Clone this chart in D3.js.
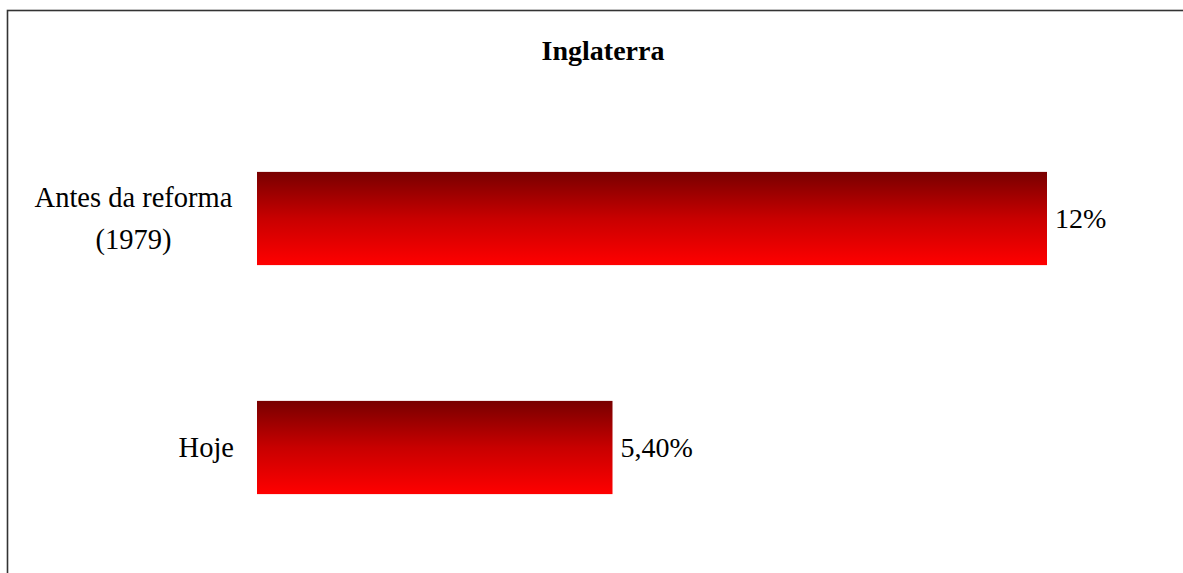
<!DOCTYPE html>
<html>
<head>
<meta charset="utf-8">
<script src="https://cdn.jsdelivr.net/npm/d3@7"></script>
<style>
  body { margin: 0; background: #fff; }
  svg { display: block; }
  text { font-family: "Liberation Serif", "Times New Roman", serif; fill: #000; }
</style>
</head>
<body>
<div id="chart"></div>
<script>
'use strict';

const width = 1183,
    height = 573;

// data
const categories = ["Antes da reforma\n(1979)", "Hoje"];
const values = [12, 5.4];
const valueLabels = ["12%", "5,40%"];
const title = "Inglaterra";

const svg = d3.select("#chart")
    .append("svg")
    .attr("width", width)
    .attr("height", height);

const defs = svg.append("defs");
const grad = defs.append("linearGradient")
    .attr("id", "barGrad")
    .attr("x1", 0).attr("y1", 0)
    .attr("x2", 0).attr("y2", 1);
grad.append("stop").attr("offset", "0%").attr("stop-color", "#780000");
grad.append("stop").attr("offset", "50%").attr("stop-color", "#c80000");
grad.append("stop").attr("offset", "100%").attr("stop-color", "#ff0000");

// chart frame (runs off the page on right and bottom)
svg.append("rect")
    .attr("x", 7.5)
    .attr("y", 10.5)
    .attr("width", 1300)
    .attr("height", 700)
    .attr("fill", "none")
    .attr("stroke", "#333")
    .attr("stroke-width", 1.6);

const xScale = d3.scaleLinear()
    .domain([0, 12])
    .range([257, 1047]);

const yScale = d3.scaleBand()
    .domain(categories)
    .range([104, 562])
    .paddingInner(0.593)
    .paddingOuter(0.2965);

svg.append("text")
    .attr("x", 603)
    .attr("y", 60)
    .attr("text-anchor", "middle")
    .attr("font-weight", "bold")
    .attr("font-size", 28)
    .text(title);

svg.selectAll(".bar")
    .data(categories)
    .join("rect")
    .attr("class", "bar")
    .attr("x", xScale(0))
    .attr("y", d => yScale(d))
    .attr("width", (d, i) => xScale(values[i]) - xScale(0))
    .attr("height", yScale.bandwidth())
    .attr("fill", "url(#barGrad)");

svg.selectAll(".val")
    .data(categories)
    .join("text")
    .attr("class", "val")
    .attr("x", (d, i) => xScale(values[i]) + 8)
    .attr("y", d => yScale(d) + yScale.bandwidth() / 2)
    .attr("dy", "0.35em")
    .attr("font-size", 28)
    .text((d, i) => valueLabels[i]);

// category labels, centred block to the left of the bars
const catG = svg.selectAll(".cat")
    .data(categories)
    .join("text")
    .attr("class", "cat")
    .attr("font-size", 28.5)
    .attr("text-anchor", d => d.includes("\n") ? "middle" : "end")
    .attr("y", d => yScale(d) + yScale.bandwidth() / 2);

catG.each(function(d) {
    const lines = d.split("\n");
    const t = d3.select(this);
    const cx = lines.length > 1 ? 133.5 : 234;
    const lh = 42;
    lines.forEach((ln, j) => {
        t.append("tspan")
            .attr("x", cx)
            .attr("dy", j === 0 ? (0.35 - (lines.length - 1) / 2 * lh / 28.5) + "em" : lh + "px")
            .text(ln);
    });
});
</script>
</body>
</html>
